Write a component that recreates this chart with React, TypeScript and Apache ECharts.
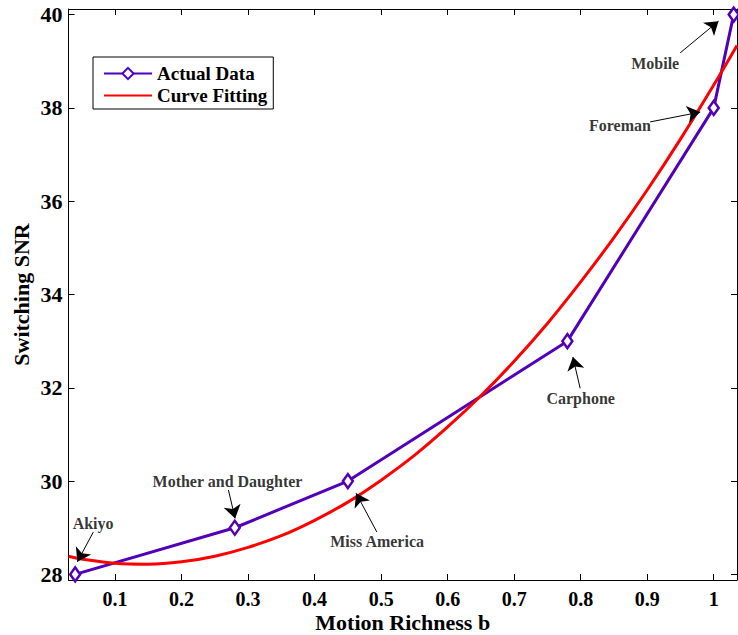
import React, { useEffect, useRef } from "react";
import * as echarts from "echarts";

// Measured data (Motion Richness b vs Switching SNR)
const sequenceNames = ["Akiyo", "Mother and Daughter", "Miss America", "Carphone", "Foreman", "Mobile"];
const motionRichness = [0.04, 0.28, 0.45, 0.78, 1.0, 1.03];
const switchingSNR = [28, 29, 30, 33, 38, 40];

// Fitted curve
const fitX = [0.03, 0.05, 0.1, 0.15, 0.2, 0.25, 0.3, 0.35, 0.4, 0.45, 0.5, 0.55, 0.6, 0.65, 0.7, 0.75, 0.8, 0.85, 0.9, 0.95, 1.0, 1.035];
const fitY = [28.39, 28.33, 28.24, 28.22, 28.27, 28.39, 28.58, 28.83, 29.16, 29.55, 30.02, 30.55, 31.16, 31.83, 32.57, 33.38, 34.27, 35.22, 36.24, 37.33, 38.49, 39.34];

// Tick labels
const xTicks = [0.1, 0.2, 0.3, 0.4, 0.5, 0.6, 0.7, 0.8, 0.9, 1.0];
const yTicks = [28, 30, 32, 34, 36, 38, 40];

// Annotation text anchors and arrows (data coordinates)
const noteX = [0.067, 0.269, 0.494, 0.8, 0.859, 0.912];
const noteY = [29.1, 30.0, 28.71, 31.76, 37.63, 38.96];
const arrowFromX = [0.0674, 0.2704, 0.4935, 0.7992, 0.9045, 0.9496];
const arrowFromY = [28.91, 29.81, 28.91, 31.99, 37.7, 39.18];
const arrowToX = [0.0433, 0.2805, 0.4624, 0.7883, 0.9797, 1.0072];
const arrowToY = [28.27, 29.2, 29.74, 32.66, 37.91, 39.86];

const FONT = "Liberation Serif";
const PURPLE = "#5200b8";

export default function App() {
  const ref = useRef<HTMLDivElement>(null);

  useEffect(() => {
    document.body.style.margin = "0";
    if (!ref.current) return;
    const chart = echarts.init(ref.current, null, { renderer: "svg" });

    const tickFmt = (v: number) => String(parseFloat(Number(v).toFixed(2)));

    const baseX = {
      type: "value" as const,
      min: 0.03,
      max: 1.035,
      splitLine: { show: false },
      axisLine: { show: true, onZero: false, lineStyle: { color: "#000", width: 1 } },
    };
    const baseY = {
      type: "value" as const,
      min: 27.88,
      max: 40.12,
      splitLine: { show: false },
      axisLine: { show: true, onZero: false, lineStyle: { color: "#000", width: 1 } },
    };

    chart.setOption({
      animation: false,
      backgroundColor: "#fff",
      grid: { left: 68.5, right: 1, top: 9, bottom: 55, containLabel: false, outerBoundsMode: "none" },
      legend: {
        data: [
          { name: "Actual Data" },
          { name: "Curve Fitting", itemStyle: { color: "transparent", borderWidth: 0, opacity: 0 } },
        ],
        orient: "vertical",
        left: 93,
        top: 57,
        padding: [7, 6, 4, 10],
        itemGap: 3,
        itemWidth: 48,
        itemHeight: 14,
        borderColor: "#000",
        borderWidth: 1,
        backgroundColor: "#fff",
        textStyle: { fontFamily: FONT, fontWeight: "bold", fontSize: 19, color: "#000" },
      },
      xAxis: [
        {
          ...baseX,
          position: "bottom",
          name: "Motion Richness b",
          nameLocation: "middle",
          nameGap: 31,
          nameMoveOverlap: false,
          nameTextStyle: { fontFamily: FONT, fontWeight: "bold", fontSize: 22, color: "#000", lineHeight: 22 },
          axisTick: { show: true, inside: true, length: 6, customValues: xTicks, lineStyle: { color: "#000" } },
          axisLabel: {
            show: true,
            customValues: xTicks,
            margin: 8,
            formatter: tickFmt,
            fontFamily: FONT,
            fontWeight: "bold",
            fontSize: 20,
            lineHeight: 22,
            color: "#000",
          },
        },
        {
          ...baseX,
          position: "top",
          axisTick: { show: true, inside: true, length: 6, customValues: xTicks, lineStyle: { color: "#000" } },
          axisLabel: { show: false, customValues: xTicks },
        },
      ],
      yAxis: [
        {
          ...baseY,
          position: "left",
          name: "Switching SNR",
          nameLocation: "middle",
          nameRotate: 90,
          nameGap: 36,
          nameMoveOverlap: false,
          nameTextStyle: { fontFamily: FONT, fontWeight: "bold", fontSize: 22, color: "#000" },
          axisTick: { show: true, inside: true, length: 6, customValues: yTicks, lineStyle: { color: "#000" } },
          axisLabel: {
            show: true,
            customValues: yTicks,
            margin: 6,
            formatter: tickFmt,
            fontFamily: FONT,
            fontWeight: "bold",
            fontSize: 22,
            color: "#000",
          },
        },
        {
          ...baseY,
          position: "right",
          axisTick: { show: true, inside: true, length: 6, customValues: yTicks, lineStyle: { color: "#000" } },
          axisLabel: { show: false, customValues: yTicks },
        },
      ],
      series: [
        {
          name: "Actual Data",
          type: "line",
          xAxisIndex: 0,
          yAxisIndex: 0,
          data: motionRichness.map((x, i) => [x, switchingSNR[i]]),
          symbol: "diamond",
          symbolSize: [10, 14],
          showAllSymbol: true,
          lineStyle: { color: PURPLE, width: 3 },
          itemStyle: { color: "#fff", borderColor: PURPLE, borderWidth: 2.5 },
          z: 3,
        },
        {
          name: "Curve Fitting",
          type: "line",
          xAxisIndex: 0,
          yAxisIndex: 0,
          data: fitX.map((x, i) => [x, fitY[i]]),
          smooth: 0.4,
          symbol: "none",
          lineStyle: { color: "#ff0000", width: 3 },
          itemStyle: { color: "#ff0000" },
          z: 4,
        },
        {
          name: "notes",
          type: "scatter",
          xAxisIndex: 0,
          yAxisIndex: 0,
          symbolSize: 0.1,
          itemStyle: { color: "transparent" },
          silent: true,
          z: 6,
          data: sequenceNames.map((n, i) => ({ name: n, value: [noteX[i], noteY[i]] })),
          label: {
            show: true,
            position: "inside",
            formatter: (p: any) => p.name,
            fontFamily: FONT,
            fontWeight: "bold",
            fontSize: 16,
            color: "#000",
          },
          markLine: {
            silent: true,
            symbol: ["none", "arrow"],
            symbolSize: 13,
            label: { show: false },
            lineStyle: { color: "#000", width: 1, type: "solid" },
            emphasis: { disabled: true },
            data: sequenceNames.map((_, i) => [
              { coord: [arrowFromX[i], arrowFromY[i]] },
              { coord: [arrowToX[i], arrowToY[i]] },
            ]),
          },
        },
      ],
    });

    return () => chart.dispose();
  }, []);

  return <div ref={ref} style={{ width: 738, height: 635 }} />;
}
